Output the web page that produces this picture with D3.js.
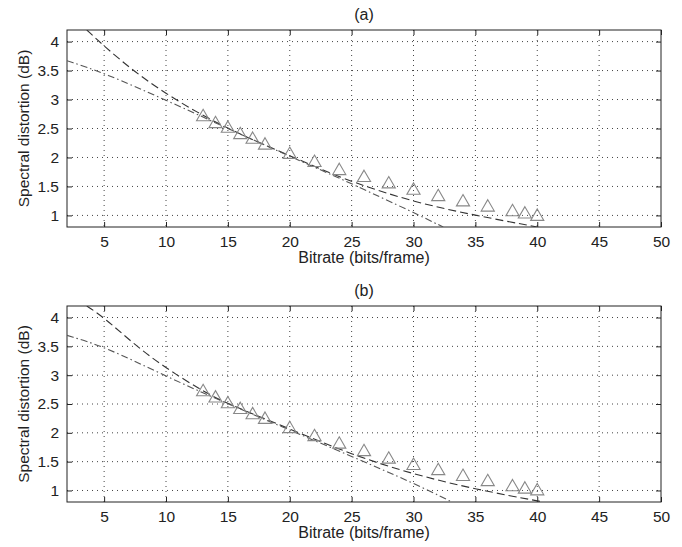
<!DOCTYPE html>
<html>
<head>
<meta charset="utf-8">
<script src="https://cdn.jsdelivr.net/npm/d3@7"></script>
<style>
  body { margin: 0; background: #fff; }
  text { font-family: "Liberation Sans", Arial, Helvetica, sans-serif; fill: #222; }
  .grid line { stroke: #444; stroke-width: 1; stroke-dasharray: 1,4; }
  .frame { fill: none; stroke: #222; stroke-width: 1; }
</style>
</head>
<body>
<script>
const width = 682,
  height = 547;

// measured points (triangles)
const bitrates = [13, 14, 15, 16, 17, 18, 20, 22, 24, 26, 28, 30, 32, 34, 36, 38, 39, 40];
const measuredA = [2.70, 2.58, 2.50, 2.39, 2.31, 2.21, 2.05, 1.91, 1.77, 1.65, 1.54, 1.43, 1.32, 1.23, 1.14, 1.06, 1.02, 0.98];
const measuredB = [2.71, 2.60, 2.50, 2.40, 2.31, 2.23, 2.07, 1.93, 1.80, 1.67, 1.54, 1.43, 1.34, 1.24, 1.15, 1.06, 1.02, 0.99];

// model curves
const dashedA = [[3.6, 4.2], [5, 3.92], [7.5, 3.47], [10, 3.1], [12.5, 2.78], [15, 2.5], [17.5, 2.26], [20, 2.03], [22.5, 1.8], [25, 1.58], [30, 1.23], [35, 1.0], [40, 0.8]];
const dashdotA = [[2, 3.67], [5, 3.46], [10, 2.99], [15, 2.5], [20, 2.02], [25, 1.55], [30, 1.05], [32.4, 0.8]];
const dashedB = [[3.6, 4.2], [5, 4.0], [7.5, 3.52], [10, 3.12], [13, 2.72], [15, 2.5], [20, 2.07], [25, 1.62], [30, 1.28], [35, 1.02], [40.5, 0.8]];
const dashdotB = [[2, 3.69], [5, 3.5], [10, 2.98], [15, 2.5], [20, 2.05], [25, 1.59], [30, 1.13], [33.1, 0.8]];

const xTicks = [5, 10, 15, 20, 25, 30, 35, 40, 45, 50];
const yTicks = [1, 1.5, 2, 2.5, 3, 3.5, 4];
const xDomain = [2, 50],
  yDomain = [0.8, 4.2];

const svg = d3.select('body').append('svg').attr('width', width).attr('height', height);

const left = 67,
  right = 661;

const x = d3.scaleLinear().domain(xDomain).range([left, right]);

function panel(id, top, bottom, title, measured, dashed, dashdot) {
  const y = d3.scaleLinear().domain(yDomain).range([bottom, top]);
  const g = svg.append('g');

  g.append('clipPath').attr('id', 'clip' + id)
    .append('rect').attr('x', left).attr('y', top).attr('width', right - left).attr('height', bottom - top);

  // dotted grid
  const grid = g.append('g').attr('class', 'grid');
  grid.selectAll('.vx').data(xTicks.filter(d => d < 50)).enter().append('line')
    .attr('x1', d => x(d)).attr('x2', d => x(d)).attr('y1', top).attr('y2', bottom);
  grid.selectAll('.hy').data(yTicks).enter().append('line')
    .attr('x1', left).attr('x2', right).attr('y1', d => y(d)).attr('y2', d => y(d));

  // axes with inward ticks (matlab style)
  const fmt = d3.format('~g');
  const axB = g.append('g').attr('transform', `translate(0,${bottom})`)
    .call(d3.axisBottom(x).tickValues(xTicks).tickFormat(fmt).tickSizeInner(-5).tickSizeOuter(0).tickPadding(9));
  const axT = g.append('g').attr('transform', `translate(0,${top})`)
    .call(d3.axisTop(x).tickValues(xTicks).tickSizeInner(-5).tickSizeOuter(0).tickFormat(''));
  const axL = g.append('g').attr('transform', `translate(${left},0)`)
    .call(d3.axisLeft(y).tickValues(yTicks).tickFormat(fmt).tickSizeInner(-5).tickSizeOuter(0).tickPadding(8));
  const axR = g.append('g').attr('transform', `translate(${right},0)`)
    .call(d3.axisRight(y).tickValues(yTicks).tickSizeInner(-5).tickSizeOuter(0).tickFormat(''));
  [axB, axT, axL, axR].forEach(a => {
    a.select('.domain').remove();
    a.selectAll('line').attr('stroke', '#222');
    a.selectAll('text').style('font-size', '15.5px').attr('fill', '#222')
      .style('font-family', '"Liberation Sans", Arial, sans-serif');
  });

  g.append('rect').attr('class', 'frame')
    .attr('x', left).attr('y', top).attr('width', right - left).attr('height', bottom - top);

  const line = d3.line().x(d => x(d[0])).y(d => y(d[1])).curve(d3.curveBasis);

  const plot = g.append('g').attr('clip-path', `url(#clip${id})`);
  plot.append('path').datum(dashed)
    .attr('fill', 'none').attr('stroke', '#333').attr('stroke-width', 1.1)
    .attr('stroke-dasharray', '8,4').attr('d', line);
  plot.append('path').datum(dashdot)
    .attr('fill', 'none').attr('stroke', '#555').attr('stroke-width', 1.1)
    .attr('stroke-dasharray', '7,3,1.5,3').attr('d', line);

  const tri = d3.symbol().type(d3.symbolTriangle).size(75);
  plot.selectAll('.tri').data(bitrates).enter().append('path')
    .attr('transform', (d, i) => `translate(${x(d)},${y(measured[i])})`)
    .attr('d', tri)
    .attr('fill', 'none').attr('stroke', '#888').attr('stroke-width', 1.1);

  g.append('text').attr('x', (left + right) / 2).attr('y', top - 10)
    .attr('text-anchor', 'middle').style('font-size', '16px').text(title);

  g.append('text').attr('x', (left + right) / 2).attr('y', bottom + 36)
    .attr('text-anchor', 'middle').style('font-size', '16px').text('Bitrate (bits/frame)');

  g.append('text').attr('transform', `translate(29,${(top + bottom) / 2}) rotate(-90)`)
    .attr('text-anchor', 'middle').style('font-size', '15.5px').text('Spectral distortion (dB)');
}

panel('a', 30, 227, '(a)', measuredA, dashedA, dashdotA);
panel('b', 306, 502, '(b)', measuredB, dashedB, dashdotB);
</script>
</body>
</html>
